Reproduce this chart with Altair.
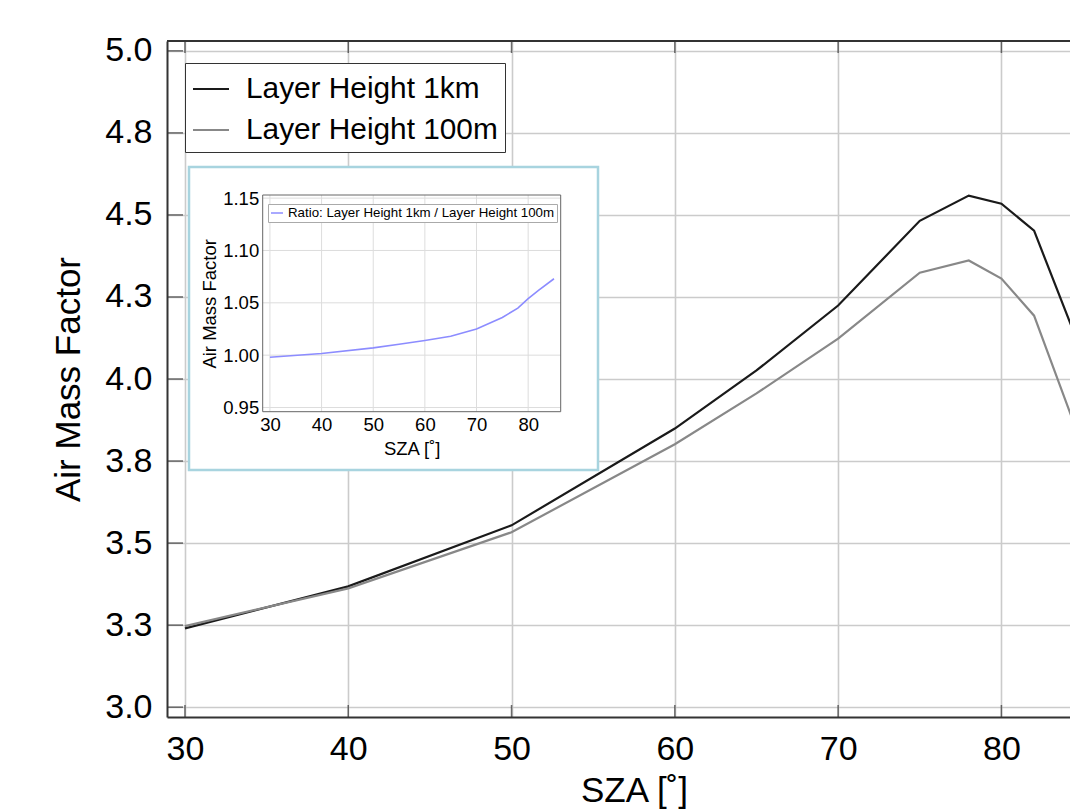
import altair as alt
import pandas as pd

FONT = "Liberation Sans"

# ---- data ----
sza = [30, 40, 50, 60, 65, 70, 75, 78, 80, 82, 85]
amf_1km = [3.240, 3.368, 3.554, 3.849, 4.026, 4.224, 4.482, 4.559, 4.534, 4.452, 4.07]
amf_100m = [3.247, 3.362, 3.533, 3.801, 3.956, 4.123, 4.324, 4.361, 4.306, 4.193, 3.79]
series_names = ["Layer Height 1km", "Layer Height 100m"]
series_colors = ["#1a1a1a", "#888888"]

ratio_sza = [30, 40, 50, 55, 60, 65, 70, 75, 78, 80, 82, 85]
ratio_vals = [0.998, 1.0016, 1.007, 1.0105, 1.014, 1.018, 1.025, 1.036, 1.045, 1.054, 1.062, 1.073]
ratio_names = ["Ratio: Layer Height 1km / Layer Height 100m"]
ratio_colors = ["#8c8cff"]

x_ticks = [30, 40, 50, 60, 70, 80]
y_ticks = [3.0, 3.25, 3.5, 3.75, 4.0, 4.25, 4.5, 4.75, 5.0]
inset_x_ticks = [30, 40, 50, 60, 70, 80]
inset_y_ticks = [0.95, 1.00, 1.05, 1.10, 1.15]

# ---- layout (pixels) ----
W, H = 903, 676
IX0, IX1, IY0, IY1 = 95.7, 393.7, 154.0, 370.7   # inset plot rectangle
BX0, BX1, BY0, BY1 = 22, 431, 126, 429           # inset white box

df_main = pd.DataFrame({
    "sza": sza * 2,
    "amf": amf_1km + amf_100m,
    "series": [series_names[0]] * len(sza) + [series_names[1]] * len(sza),
})
df_ratio = pd.DataFrame({"sza": ratio_sza, "ratio": ratio_vals, "label": ratio_names * len(ratio_sza)})
df_xt = pd.DataFrame({"v": x_ticks})
df_yt = pd.DataFrame({"v": y_ticks})
df_ixt = pd.DataFrame({"v": inset_x_ticks})
df_iyt = pd.DataFrame({"v": inset_y_ticks})
one = pd.DataFrame({"k": [0]})

xs = alt.Scale(domain=[28.9, 84.2], nice=False, zero=False)
ys = alt.Scale(domain=[2.97, 5.03], nice=False, zero=False)

FRAME = "#333333"

lines = alt.Chart(df_main).mark_line(strokeWidth=2.2, clip=True).encode(
    x=alt.X("sza:Q", scale=xs, axis=alt.Axis(
        orient="bottom", values=x_ticks, title="SZA [˚]", grid=True,
        gridColor="#cbcbcb", gridWidth=1.6, ticks=False, domainColor=FRAME, domainWidth=2,
        labelFontSize=34, labelPadding=15, labelFlush=False, labelOverlap=False,
        labelColor="black", labelFont=FONT, titleFont=FONT, titleFontSize=35,
        titleFontWeight="normal", titleColor="black", titlePadding=7, titleX=467)),
    y=alt.Y("amf:Q", scale=ys, axis=alt.Axis(
        orient="left", values=y_ticks, format=".1f", title="Air Mass Factor", grid=True,
        gridColor="#cbcbcb", gridWidth=1.6, ticks=False, domainColor=FRAME, domainWidth=2,
        labelFontSize=34, labelPadding=15, labelOverlap=False,
        labelColor="black", labelFont=FONT, titleFont=FONT, titleFontSize=35,
        titleFontWeight="normal", titleColor="black", titlePadding=18)),
    color=alt.Color("series:N", sort=series_names,
                    scale=alt.Scale(domain=series_names, range=series_colors),
                    legend=alt.Legend(orient="none", legendX=18, legendY=22, title=None,
                                      symbolType="stroke", symbolSize=1296, symbolStrokeWidth=2,
                                      labelFontSize=29.8, labelFont=FONT, labelColor="black",
                                      labelOffset=16, rowPadding=7, padding=7,
                                      strokeColor=FRAME, fillColor="white", labelLimit=600)),
)

left_ticks = alt.Chart(df_yt).mark_tick(color=FRAME, thickness=1.5, size=16, orient="horizontal").encode(
    y=alt.Y("v:Q", scale=ys, axis=None), x=alt.value(8))
top_ticks = alt.Chart(df_xt).mark_tick(color=FRAME, thickness=1.5, size=12, orient="vertical").encode(
    x=alt.X("v:Q", scale=xs, axis=None), y=alt.value(6))
bottom_ticks = alt.Chart(df_xt).mark_tick(color=FRAME, thickness=1.5, size=12, orient="vertical").encode(
    x=alt.X("v:Q", scale=xs, axis=None), y=alt.value(H - 6))
top_frame = alt.Chart(one).mark_rule(color=FRAME, strokeWidth=2).encode(
    x=alt.value(0), x2=alt.value(W), y=alt.value(0))

# ---- inset ----
ixs = alt.Scale(domain=[28.6, 86.3], range=[IX0, IX1], nice=False, zero=False)
iys = alt.Scale(domain=[0.946, 1.153], range=[IY1, IY0], nice=False, zero=False)

box = alt.Chart(one).mark_rect(fill="white", stroke="#a8d4df", strokeWidth=2.5).encode(
    x=alt.value(BX0), x2=alt.value(BX1), y=alt.value(BY0), y2=alt.value(BY1))
igrid_x = alt.Chart(df_ixt).mark_rule(color="#dddddd", strokeWidth=1).encode(
    x=alt.X("v:Q", scale=ixs, axis=None), y=alt.value(IY0), y2=alt.value(IY1))
igrid_y = alt.Chart(df_iyt).mark_rule(color="#dddddd", strokeWidth=1).encode(
    y=alt.Y("v:Q", scale=iys, axis=None), x=alt.value(IX0), x2=alt.value(IX1))
iframe = alt.Chart(one).mark_rect(fillOpacity=0, stroke="#666666", strokeWidth=1).encode(
    x=alt.value(IX0), x2=alt.value(IX1), y=alt.value(IY0), y2=alt.value(IY1))
iline = alt.Chart(df_ratio).mark_line(strokeWidth=1.6).encode(
    x=alt.X("sza:Q", scale=ixs, axis=alt.Axis(
        orient="bottom", offset=-(H - IY1), values=inset_x_ticks, title="SZA [˚]",
        grid=False, ticks=False, domain=False, zindex=1,
        labelFontSize=18.5, labelPadding=4, labelFlush=False, labelOverlap=False,
        labelColor="black", labelFont=FONT, titleFont=FONT, titleFontSize=18.5,
        titleFontWeight="normal", titleColor="black", titlePadding=5)),
    y=alt.Y("ratio:Q", scale=iys, axis=alt.Axis(
        orient="left", offset=-IX0, values=inset_y_ticks, format=".2f", title="Air Mass Factor",
        grid=False, ticks=False, domain=False, zindex=1,
        labelFontSize=18.5, labelPadding=4, labelOverlap=False,
        labelColor="black", labelFont=FONT, titleFont=FONT, titleFontSize=18.5,
        titleFontWeight="normal", titleColor="black", titlePadding=3)),
    color=alt.Color("label:N", scale=alt.Scale(domain=ratio_names, range=ratio_colors),
                    legend=alt.Legend(orient="none", legendX=101, legendY=163, title=None,
                                      symbolType="stroke", symbolSize=144, symbolStrokeWidth=1.5,
                                      labelFontSize=13.3, labelFont=FONT, labelColor="black",
                                      labelOffset=4, padding=2, strokeColor="#aaaaaa",
                                      fillColor="white", labelLimit=600)),
)

chart = alt.layer(
    lines, left_ticks, top_ticks, bottom_ticks, top_frame,
    box, igrid_x, igrid_y, iframe, iline
).resolve_scale(
    x="independent", y="independent", color="independent"
).properties(
    width=W, height=H,
    autosize=alt.AutoSizeParams(type="none"),
    padding={"left": 167, "top": 41, "right": 0, "bottom": 93},
).configure(background="white", font=FONT).configure_view(strokeWidth=0)

chart.save("out.html", embed_options={"renderer": "svg", "actions": False})
